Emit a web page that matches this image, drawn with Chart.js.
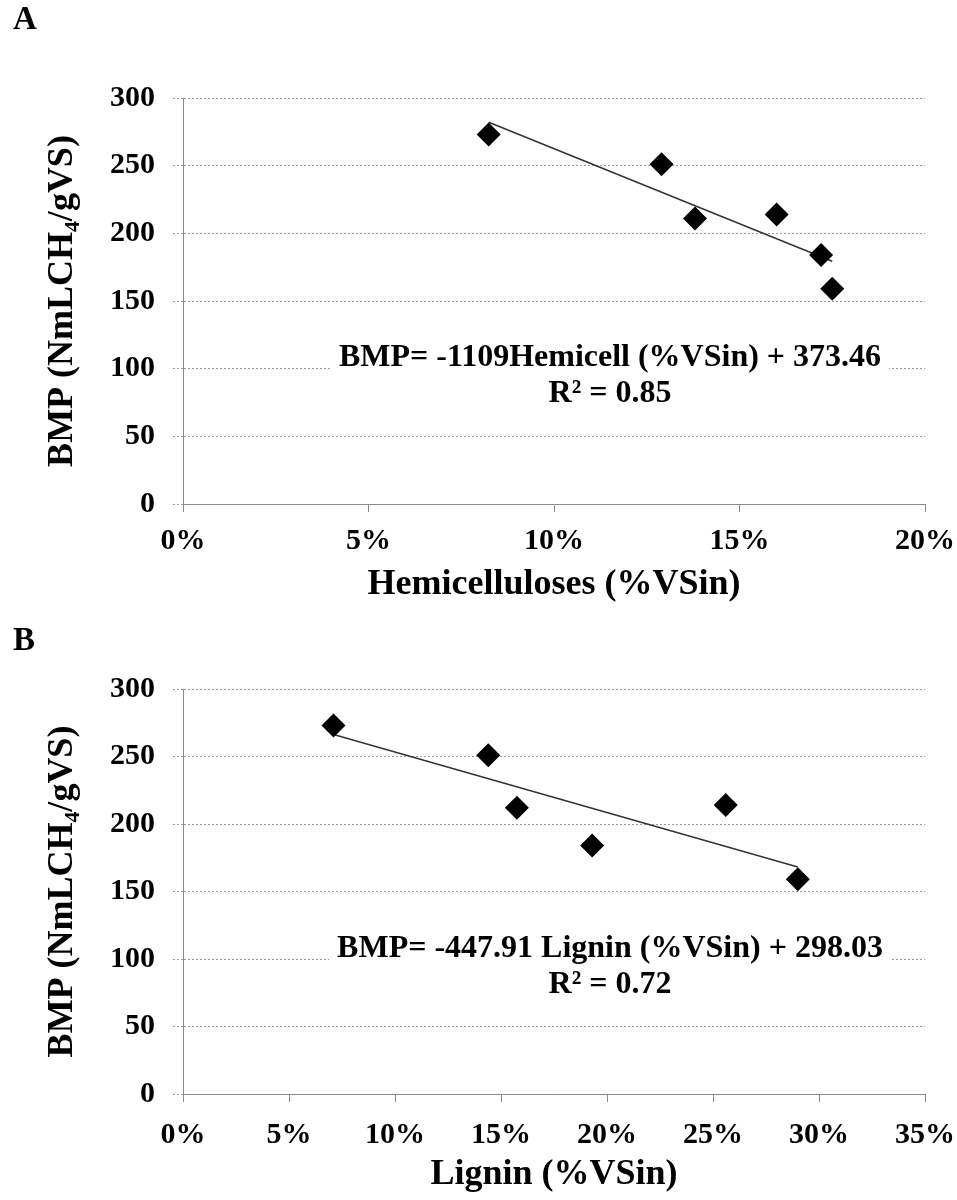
<!DOCTYPE html>
<html>
<head>
<meta charset="utf-8">
<script src="https://cdn.jsdelivr.net/npm/chart.js@4"></script>
<style>
  body { margin: 0; background: #fff; }
  canvas { display: block; }
</style>
</head>
<body>
<canvas id="chartA" width="957" height="615"></canvas>
<canvas id="chartB" width="957" height="585"></canvas>
<script>
// data (x in % of VSin, y in NmL CH4 / gVS)
const hemiX = [8.24, 12.9, 13.8, 16.0, 17.2, 17.5];
const bmpA = [273, 251, 211, 214, 184, 159];
const ligninX = [7.1, 14.4, 15.75, 19.3, 25.6, 29.0];
const bmpB = [273, 251, 212, 184, 214, 159];

// trend lines as printed on the figure: slope (per fraction), intercept
const fitA = [-1109, 373.46];
const fitB = [-447.91, 298.03];
const eqA = ['BMP= -1109Hemicell (%VSin) + 373.46', 'R\u00b2 = 0.85'];
const eqB = ['BMP= -447.91 Lignin (%VSin) + 298.03', 'R\u00b2 = 0.72'];

const yTicks = [0, 50, 100, 150, 200, 250, 300];

const FONT = '"Liberation Serif", "Times New Roman", "DejaVu Serif", serif';

// draws the regression equation box
const equationLabel = {
  id: 'equationLabel',
  afterDatasetsDraw(chart, args, opts) {
    const { ctx, chartArea } = chart;
    const cx = chartArea.left + opts.dx;
    const y1 = chartArea.top + opts.dy1;
    const y2 = chartArea.top + opts.dy2;
    ctx.save();
    ctx.font = 'bold 32px ' + FONT;
    const w = ctx.measureText(opts.lines[0]).width;
    ctx.fillStyle = '#fff';
    ctx.fillRect(cx - w / 2 - 8, y1 - 20, w + 16, y2 - y1 + 40);
    ctx.fillStyle = '#000';
    ctx.textAlign = 'center';
    ctx.textBaseline = 'middle';
    ctx.fillText(opts.lines[0], cx, y1);
    ctx.fillText(opts.lines[1], cx, y2);
    ctx.restore();
  }
};

function buildPanel(id, letter, xs, ys, fit, xMax, xTitle, eq, g) {
  const points = xs.map((x, i) => ({ x: x, y: ys[i] }));
  const x0 = Math.min(...xs), x1 = Math.max(...xs);
  const trend = [
    { x: x0, y: fit[0] * x0 / 100 + fit[1] },
    { x: x1, y: fit[0] * x1 / 100 + fit[1] }
  ];

  new Chart(document.getElementById(id), {
    type: 'scatter',
    data: {
      datasets: [{
        data: points,
        pointStyle: 'rectRot',
        pointRadius: 12,
        pointHoverRadius: 12,
        backgroundColor: '#000',
        borderWidth: 0
      }, {
        data: trend,
        showLine: true,
        pointRadius: 0,
        borderColor: '#333',
        borderWidth: 1.5
      }]
    },
    options: {
      responsive: false,
      animation: false,
      events: [],
      layout: { padding: { left: 13, right: 32, top: 0, bottom: 0 } },
      plugins: {
        legend: { display: false },
        tooltip: { enabled: false },
        title: {
          display: true,
          text: letter,
          align: 'start',
          color: '#000',
          font: { family: FONT, size: 33, weight: 'bold' },
          padding: { top: g.titleTop, bottom: g.titleBottom }
        },
        equationLabel: { lines: eq, dx: 427, dy1: 260, dy2: 296 }
      },
      scales: {
        x: {
          type: 'linear',
          min: 0,
          max: xMax,
          afterFit: s => {
            s.height = g.xHeight;
            s.paddingLeft = 0;
            s.paddingRight = 0;
          },
          ticks: {
            stepSize: 5,
            padding: g.xTickPad,
            color: '#000',
            font: { family: FONT, size: 30, weight: 'bold' },
            callback: v => v + '%'
          },
          grid: { drawOnChartArea: false, drawTicks: true, tickLength: 8, tickColor: '#8a8a8a' },
          border: { color: '#8a8a8a', width: 1 },
          title: {
            display: true,
            text: xTitle,
            color: '#000',
            font: { family: FONT, size: 36, weight: 'bold' },
            padding: { top: 0, bottom: g.xTitleBottom }
          }
        },
        y: {
          min: 0,
          max: 300,
          afterFit: s => { s.width = 170; },
          afterBuildTicks: s => { s.ticks = yTicks.map(v => ({ value: v })); },
          ticks: {
            padding: 18,
            color: '#000',
            font: { family: FONT, size: 30, weight: 'bold' }
          },
          grid: { color: '#9a9a9a', tickLength: 10, tickColor: '#9a9a9a', tickBorderDash: [2, 2] },
          border: { color: '#8a8a8a', width: 1, dash: [2, 2] },
          title: {
            display: true,
            text: 'BMP (NmLCH\u2084/gVS)',
            color: '#000',
            font: { family: FONT, size: 36, weight: 'bold' },
            padding: { top: 28, bottom: 0 }
          }
        }
      }
    },
    plugins: [equationLabel]
  });
}

buildPanel('chartA', 'A', hemiX, bmpA, fitA, 20, 'Hemicelluloses (%VSin)', eqA,
  { titleTop: 1, titleBottom: 57.4, xHeight: 111, xTickPad: 11, xTitleBottom: 8.4 });
buildPanel('chartB', 'B', ligninX, bmpB, fitB, 35, 'Lignin (%VSin)', eqB,
  { titleTop: 6.2, titleBottom: 28.2, xHeight: 106, xTickPad: 15, xTitleBottom: 3.4 });
</script>
</body>
</html>
